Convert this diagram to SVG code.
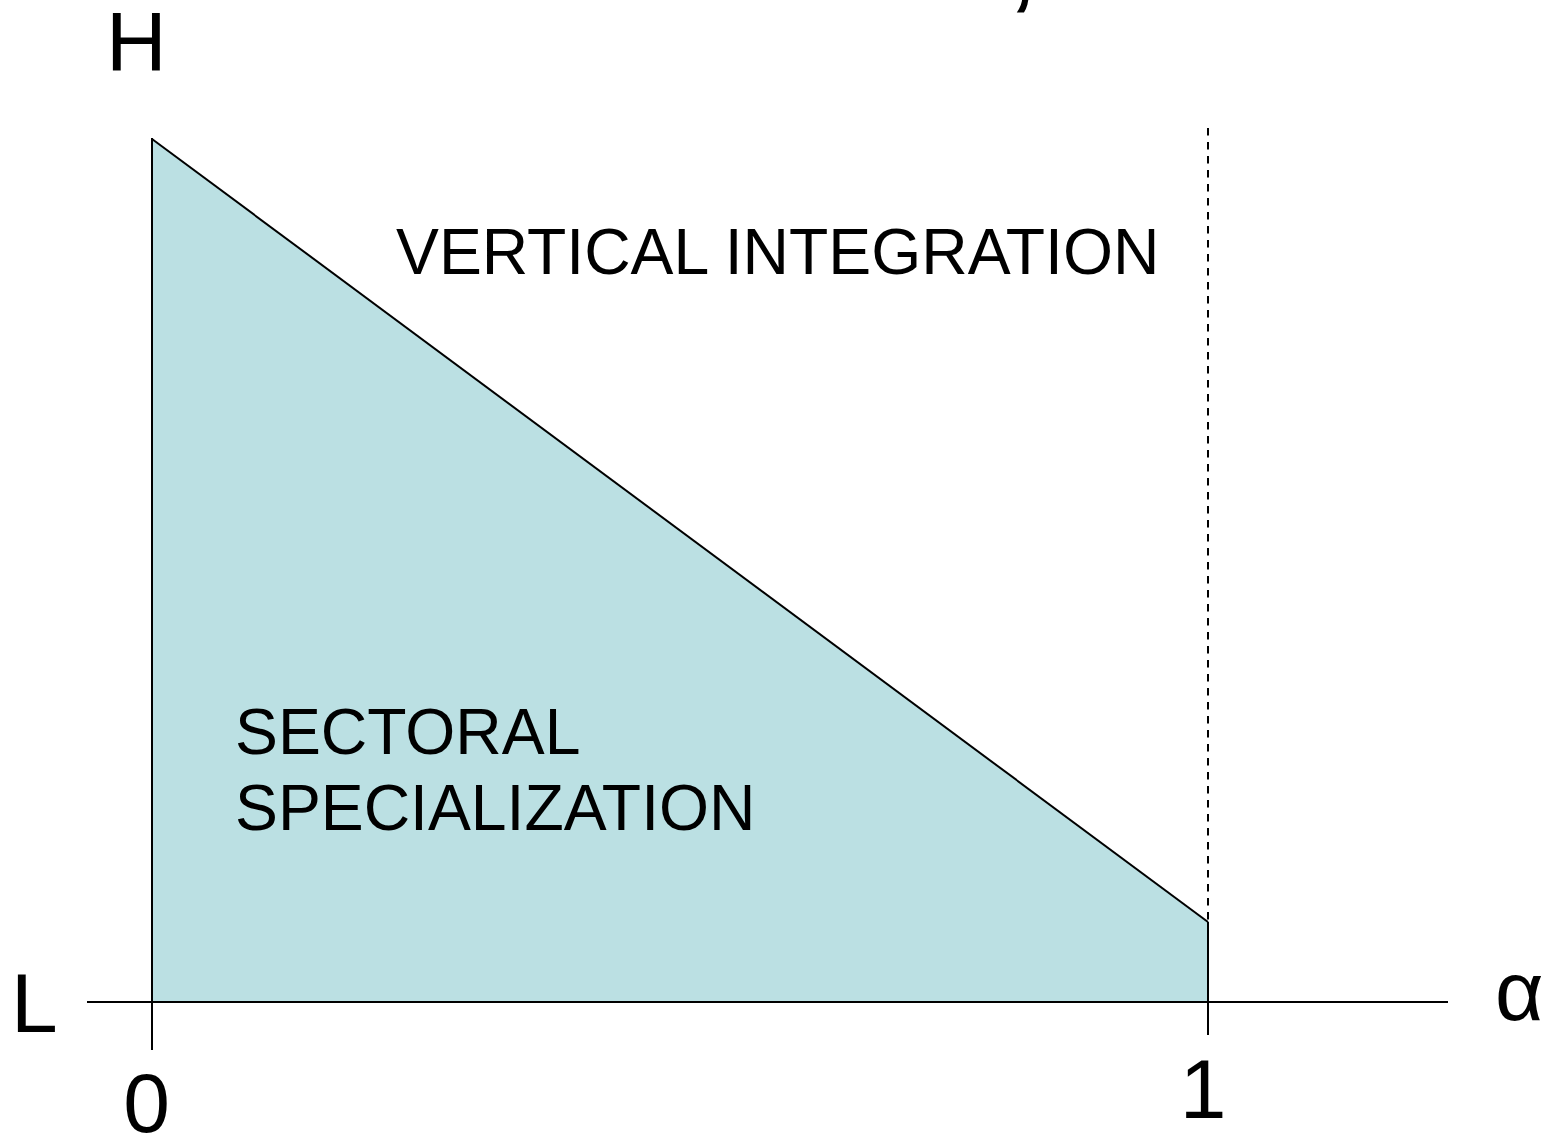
<svg xmlns="http://www.w3.org/2000/svg" width="1549" height="1139" viewBox="0 0 1549 1139">
  <style>
    .lbl { font-family: "Liberation Sans", Arial, sans-serif; fill: #000; }
    .axis { font-size: 84px; }
    .region { font-size: 64.3px; }
    .ln { stroke: #000; stroke-width: 2; fill: none; }
  </style>
  <rect width="1549" height="1139" fill="#fff"/>

  <!-- cropped title fragment at the top edge -->
  <text class="lbl" x="1006" y="-3" font-size="120">,</text>

  <!-- shaded region: sectoral specialization -->
  <g id="region-sectoral">
    <polygon points="152,139 1208,922 1208,1002 152,1002" fill="#bbe0e3"/>
    <text class="lbl region" x="235" y="754">SECTORAL</text>
    <text class="lbl region" x="235" y="830">SPECIALIZATION</text>
  </g>

  <g id="region-vertical">
    <text class="lbl region" x="396" y="274">VERTICAL INTEGRATION</text>
  </g>

  <g id="connectors">
    <!-- boundary between regimes -->
    <line class="ln" x1="152" y1="139" x2="1208" y2="922" stroke-width="1.8"/>
    <!-- alpha = 1 limit -->
    <line class="ln" x1="1208" y1="128" x2="1208" y2="922" stroke-dasharray="7.5 6.5"/>
    <line class="ln" x1="1208" y1="922" x2="1208" y2="1035"/>
    <!-- axes -->
    <line class="ln" x1="87" y1="1002" x2="1448" y2="1002"/>
    <line class="ln" x1="152" y1="138" x2="152" y2="1050"/>
  </g>

  <g id="axis-labels">
    <text class="lbl axis" x="106" y="71">H</text>
    <text class="lbl axis" x="11" y="1032">L</text>
    <text class="lbl axis" x="1495" y="1020">α</text>
    <text class="lbl axis" x="146.5" y="1132" text-anchor="middle">0</text>
    <text class="lbl axis" x="1203" y="1118" text-anchor="middle">1</text>
  </g>
</svg>
